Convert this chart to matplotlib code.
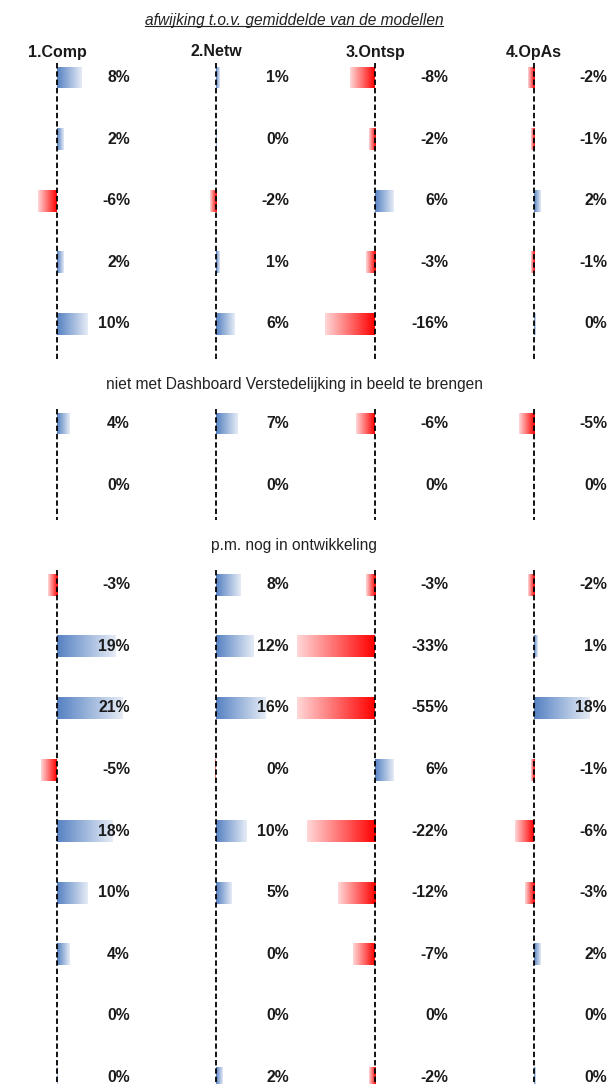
import numpy as np
import matplotlib
matplotlib.use("Agg")
import matplotlib.pyplot as plt
from matplotlib.colors import LinearSegmentedColormap
from matplotlib.lines import Line2D

plt.rcParams['font.family'] = ['Liberation Sans', 'DejaVu Sans']

# data
title = "afwijking t.o.v. gemiddelde van de modellen"
columns = ["1.Comp", "2.Netw", "3.Ontsp", "4.OpAs"]
section_notes = ["niet met Dashboard Verstedelijking in beeld te brengen",
                 "p.m. nog in ontwikkeling"]
section_sizes = [5, 2, 9]

comp = [8, 2, -6, 2, 10, 4, 0, -3, 19, 21, -5, 18, 10, 4, 0, 0.3]
netw = [1, 0.2, -2, 1, 6, 7, 0, 8, 12, 16, -0.3, 10, 5, 0, 0, 2]
ontsp = [-8, -2, 6, -3, -16, -6, 0, -3, -33, -55, 6, -22, -12, -7, 0, -2]
opas = [-2, -1, 2, -1, 0.4, -5, 0, -2, 1, 18, -1, -6, -3, 2, 0, 0.4]
values = [comp, netw, ontsp, opas]

W, H = 613, 1084
fig = plt.figure(figsize=(W / 100, H / 100), dpi=100)

# layout (pixels)
zero_x = [57, 216, 375, 534]
left_px, right_px = 78, 81
px_per_pct = 3.1
pitch = 61.6
gap = 38
first_row = 77.5
bar_h = 22

# row centres
rows_y = []
sec_bounds = []
y = first_row
for s, n in enumerate(section_sizes):
    start = y
    for i in range(n):
        rows_y.append(y)
        y += pitch
    sec_bounds.append((start - 15, y - pitch + 35))
    y += gap
sec_bounds[-1] = (sec_bounds[-1][0], H)

blue = LinearSegmentedColormap.from_list("b", ["#5581c2", "#e6ecf6"])
red = LinearSegmentedColormap.from_list("r", ["#ff0000", "#ffd8d8"])
grad = np.linspace(0, 1, 256).reshape(1, -1)

for c, name in enumerate(columns):
    ax = fig.add_axes([(zero_x[c] - left_px) / W, 0, (left_px + right_px) / W, 1])
    ax.set_axis_off()
    xmin, xmax = -left_px / px_per_pct, right_px / px_per_pct
    vals = np.array(values[c], dtype=float)
    drawn = np.clip(vals, xmin, xmax)
    bars = ax.barh(rows_y, drawn, height=bar_h, color='none', linewidth=0)
    for b, d in zip(bars, drawn):
        if d == 0:
            continue
        yc = b.get_y() + bar_h / 2
        im = ax.imshow(grad, cmap=blue if d > 0 else red, aspect='auto',
                       extent=[0, d, yc + bar_h / 2, yc - bar_h / 2],
                       interpolation='bilinear')
        im.set_clip_path(b)
    for yy, v in zip(rows_y, vals):
        ax.annotate(f"{int(round(v))}%", xy=(0, yy), xytext=(73 * 0.72, 0),
                    textcoords='offset points', ha='right', va='center',
                    fontsize=11.3, fontweight='bold', color='#1a1a1a')
    for top, bot in sec_bounds:
        ax.vlines(0, top, bot, colors='black', linewidth=1.3,
                  linestyles=(0, (3, 1.6)))
    ax.text(0, 52, name, ha='center', va='center', fontsize=11.5,
            fontweight='bold', color='#1a1a1a')
    ax.set_xlim(xmin, xmax)
    ax.set_ylim(H, 0)

# section notes
for s, note in enumerate(section_notes):
    yy = (sec_bounds[s][1] + sec_bounds[s + 1][0]) / 2 + 1
    fig.text(294 / W, 1 - yy / H, note, ha='center', va='center',
             fontsize=11.2, color='#222222')

t = fig.text(294 / W, 1 - 20 / H, title, ha='center', va='center',
             fontsize=11.2, style='italic', color='#222222')
fig.canvas.draw()
bb = t.get_window_extent()
inv = fig.transFigure.inverted()
(x0, y0), (x1, _) = inv.transform([(bb.x0, bb.y0 + 1.5), (bb.x1, bb.y0)])
fig.add_artist(Line2D([x0, x1], [y0, y0], transform=fig.transFigure,
                      color='#222222', linewidth=0.8))

fig.savefig("out.png", dpi=100)
